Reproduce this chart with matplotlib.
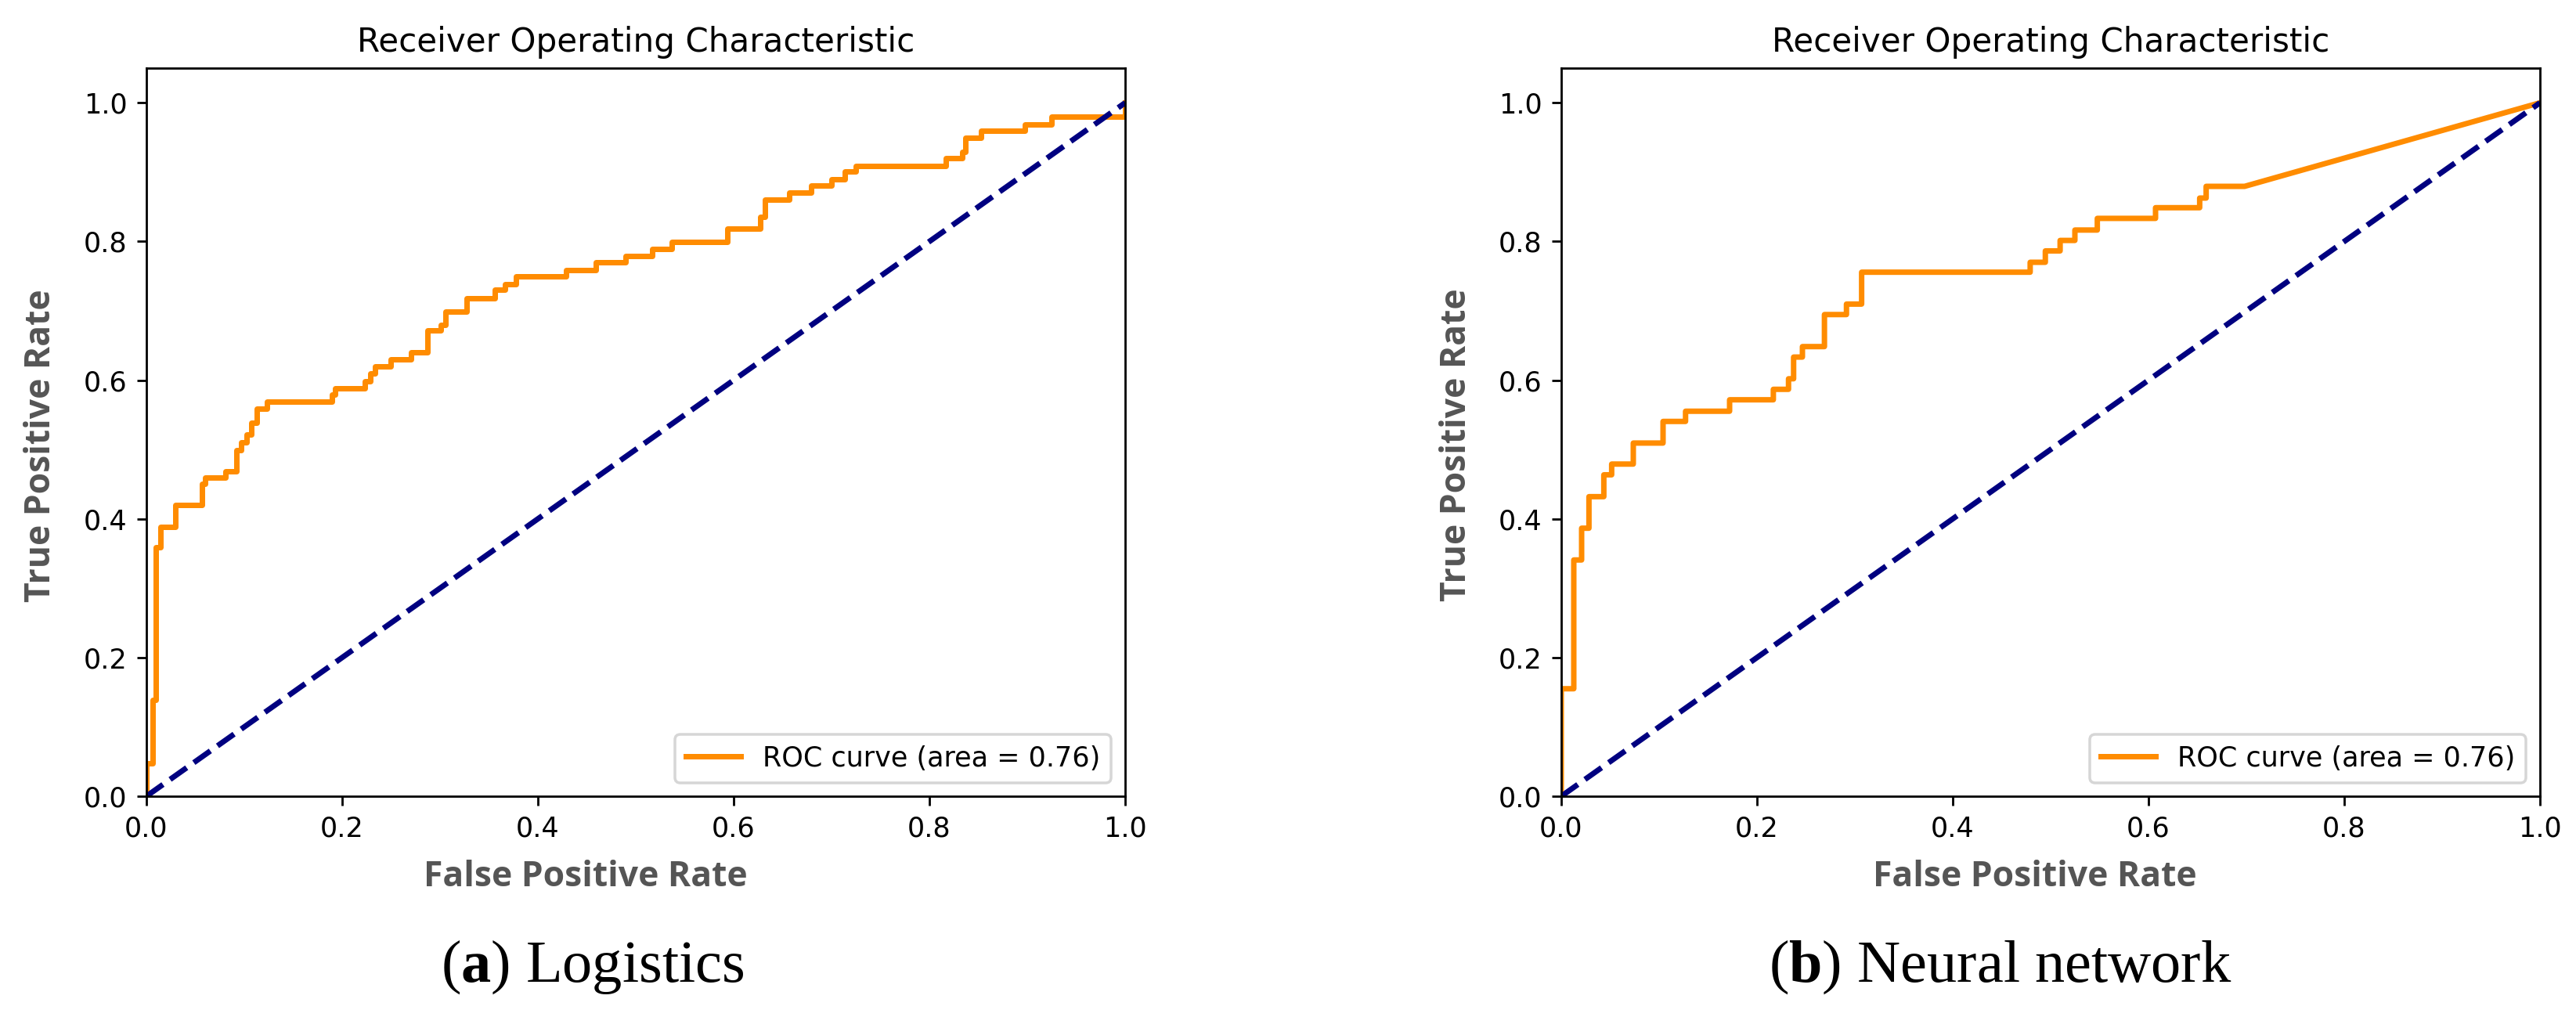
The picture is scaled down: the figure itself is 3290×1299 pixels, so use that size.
import matplotlib
matplotlib.use("Agg")
import matplotlib.pyplot as plt

# ROC vertices
lr_fpr = [0, 0, 0.0064, 0.0064, 0.0099, 0.0099, 0.0144, 0.0144, 0.0294, 0.0294,
          0.0566, 0.0566, 0.060, 0.060, 0.0805, 0.0805, 0.092, 0.092, 0.0966, 0.0966,
          0.1027, 0.1027, 0.107, 0.107, 0.1127, 0.1127, 0.1234, 0.1234, 0.1894, 0.1894,
          0.193, 0.193, 0.2234, 0.2234, 0.2287, 0.2287, 0.2334, 0.2334, 0.250, 0.250,
          0.2704, 0.2704, 0.2869, 0.2869, 0.301, 0.301, 0.306, 0.306, 0.3269, 0.3269,
          0.3562, 0.3562, 0.3662, 0.3662, 0.3776, 0.3776, 0.4287, 0.4287, 0.4593, 0.4593,
          0.4896, 0.4896, 0.5168, 0.5168, 0.537, 0.537, 0.5933, 0.5933, 0.6272, 0.6272,
          0.632, 0.632, 0.6568, 0.6568, 0.679, 0.679, 0.6997, 0.6997, 0.714, 0.714,
          0.7247, 0.7247, 0.8168, 0.8168, 0.8336, 0.8336, 0.837, 0.837, 0.853, 0.853,
          0.898, 0.898, 0.9247, 0.9247, 1.0, 1.0]
lr_tpr = [0, 0.047, 0.047, 0.139, 0.139, 0.359, 0.359, 0.388, 0.388, 0.420,
          0.420, 0.450, 0.450, 0.460, 0.460, 0.468, 0.468, 0.499, 0.499, 0.510,
          0.510, 0.5215, 0.5215, 0.539, 0.539, 0.559, 0.559, 0.569, 0.569, 0.579,
          0.579, 0.588, 0.588, 0.5985, 0.5985, 0.610, 0.610, 0.6195, 0.6195, 0.630,
          0.630, 0.640, 0.640, 0.6716, 0.6716, 0.6795, 0.6795, 0.699, 0.699, 0.7178,
          0.7178, 0.7309, 0.7309, 0.7387, 0.7387, 0.7495, 0.7495, 0.759, 0.759, 0.770,
          0.770, 0.7795, 0.7795, 0.789, 0.789, 0.799, 0.799, 0.8185, 0.8185, 0.8355,
          0.8355, 0.860, 0.860, 0.870, 0.870, 0.881, 0.881, 0.890, 0.890, 0.9007,
          0.9007, 0.9094, 0.9094, 0.9197, 0.9197, 0.929, 0.929, 0.949, 0.949, 0.960,
          0.960, 0.969, 0.969, 0.980, 0.980, 1.0]

nn_fpr = [0, 0, 0.0128, 0.0128, 0.0208, 0.0208, 0.0283, 0.0283, 0.0435, 0.0435,
          0.0515, 0.0515, 0.0736, 0.0736, 0.104, 0.104, 0.127, 0.127, 0.172, 0.172,
          0.2167, 0.2167, 0.2322, 0.2322, 0.2374, 0.2374, 0.2464, 0.2464, 0.2689, 0.2689,
          0.2914, 0.2914, 0.3069, 0.3069, 0.4791, 0.4791, 0.4946, 0.4946, 0.5097, 0.5097,
          0.5248, 0.5248, 0.5477, 0.5477, 0.6072, 0.6072, 0.6523, 0.6523, 0.6589, 0.6589,
          0.6982, 1.0]
nn_tpr = [0, 0.155, 0.155, 0.3407, 0.3407, 0.3865, 0.3865, 0.432, 0.432, 0.4635,
          0.4635, 0.479, 0.479, 0.5093, 0.5093, 0.5405, 0.5405, 0.5552, 0.5552, 0.5717,
          0.5717, 0.5868, 0.5868, 0.602, 0.602, 0.6333, 0.6333, 0.6484, 0.6484, 0.6946,
          0.6946, 0.7097, 0.7097, 0.7557, 0.7557, 0.770, 0.770, 0.7864, 0.7864, 0.8015,
          0.8015, 0.8165, 0.8165, 0.8333, 0.8333, 0.8487, 0.8487, 0.8626, 0.8626, 0.8795,
          0.8795, 1.0]

lr_auc = 0.76
nn_auc = 0.76
captions = [("a", "Logistics"), ("b", "Neural network")]

W, H = 3291, 1299
s = 2.52  # the panels were saved at ~252 dpi

plt.rcParams["mathtext.fontset"] = "custom"
plt.rcParams["mathtext.rm"] = "Liberation Serif"
plt.rcParams["mathtext.bf"] = "Liberation Serif:bold"
plt.rcParams["patch.linewidth"] = 1.0 * s

fig = plt.figure(figsize=(W / 100, H / 100), dpi=100)

panels = [(187, lr_fpr, lr_tpr, lr_auc), (1994, nn_fpr, nn_tpr, nn_auc)]
for left_px, fpr, tpr, auc in panels:
    ax = fig.add_axes([left_px / W, (H - 1017) / H, 1250 / W, 930 / H])
    ax.plot(fpr, tpr, color="darkorange", lw=2 * s,
            label="ROC curve (area = %0.2f)" % auc)
    ax.plot([0, 1], [0, 1], color="navy", lw=2 * s, linestyle="--")
    ax.set_xlim([0.0, 1.0])
    ax.set_ylim([0.0, 1.05])
    ax.set_title("Receiver Operating Characteristic", fontsize=12 * s, pad=6 * s)
    ax.tick_params(labelsize=10 * s, length=3.5 * s, width=0.8 * s, pad=3.5 * s)
    for sp in ax.spines.values():
        sp.set_linewidth(0.8 * s)
    ax.legend(loc="lower right", fontsize=10 * s)

# axis labels added on top of the panels
lab = dict(family="Open Sans", weight="bold", color="#555555", fontsize=32)
for xc, yc in [(748, 1120), (2599, 1120)]:
    fig.text(xc / W, 1 - yc / H, "False Positive Rate", ha="center", va="center", **lab)
for xc, yc in [(53, 569), (1861, 568)]:
    fig.text(xc / W, 1 - yc / H, "True Positive Rate", ha="center", va="center",
             rotation=90, **lab)

# subfigure captions
for (letter, name), xc in zip(captions, [757, 2555]):
    fig.text(xc / W, 1 - 1235 / H, "($\\mathbf{%s}$) %s" % (letter, name),
             ha="center", va="center", family="Liberation Serif", fontsize=55)

fig.savefig("out.png", dpi=100)
